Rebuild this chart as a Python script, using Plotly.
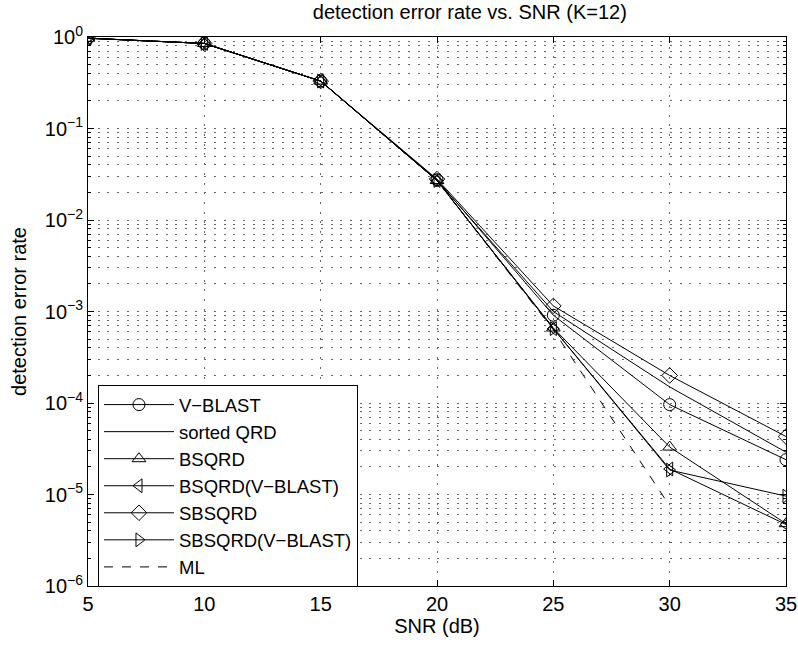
import plotly.graph_objects as go

snr = [5, 10, 15, 20, 25, 30, 35]
snr_ml = [5, 10, 15, 20, 25, 30]
vblast = [0.97, 0.85, 0.33, 0.0275, 9.1e-4, 9.6e-5, 2.4e-5]
sorted_qrd = [0.97, 0.85, 0.33, 0.027, 1.0e-3, 1.5e-4, 2.9e-5]
bsqrd = [0.97, 0.85, 0.33, 0.027, 6.6e-4, 3.3e-5, 4.8e-6]
bsqrd_vb = [0.97, 0.85, 0.33, 0.027, 6.5e-4, 1.9e-5, 4.7e-6]
sbsqrd = [0.97, 0.85, 0.33, 0.028, 1.15e-3, 2.0e-4, 4.3e-5]
sbsqrd_vb = [0.97, 0.85, 0.33, 0.027, 6.5e-4, 1.85e-5, 9.6e-6]
ml = [0.97, 0.85, 0.33, 0.027, 6.3e-4, 7.5e-6]

x_ticks = [5, 10, 15, 20, 25, 30, 35]
y_ticks = [1e-6, 1e-5, 1e-4, 1e-3, 1e-2, 1e-1, 1]
y_ticktext = ["10<sup>\u22126</sup>", "10<sup>\u22125</sup>", "10<sup>\u22124</sup>",
              "10<sup>\u22123</sup>", "10<sup>\u22122</sup>", "10<sup>\u22121</sup>",
              "10<sup>0</sup>"]
y_minor = [m * 10.0 ** e for e in range(-6, 0) for m in range(2, 10)]

series = [
    ("V\u2212BLAST", snr, vblast, "circle-open", "solid"),
    ("sorted QRD", snr, sorted_qrd, None, "solid"),
    ("BSQRD", snr, bsqrd, "triangle-up-open", "solid"),
    ("BSQRD(V\u2212BLAST)", snr, bsqrd_vb, "triangle-left-open", "solid"),
    ("SBSQRD", snr, sbsqrd, "diamond-open", "solid"),
    ("SBSQRD(V\u2212BLAST)", snr, sbsqrd_vb, "triangle-right-open", "solid"),
    ("ML", snr_ml, ml, None, "dash"),
]

fig = go.Figure()
for name, x, y, sym, dash in series:
    if sym:
        fig.add_trace(go.Scatter(
            x=x, y=y, name=name, mode="lines+markers",
            line=dict(color="black", width=1, dash=dash),
            marker=dict(symbol=sym, size=12, color="black", line=dict(width=1, color="black")),
        ))
    else:
        fig.add_trace(go.Scatter(
            x=x, y=y, name=name, mode="lines",
            line=dict(color="black", width=1, dash=dash),
        ))

font = "Liberation Sans, Arial, Helvetica, sans-serif"
grid_dash = "2px,7.7px"
grid_color = "#666"
fig.update_layout(
    width=798, height=645,
    margin=dict(l=88, r=12, t=37, b=59),
    paper_bgcolor="white", plot_bgcolor="white",
    font=dict(family=font, size=20, color="black"),
    title=dict(text="detection error rate vs. SNR (K=12)", x=0.547, xanchor="center",
               xref="paper", y=0.981, yanchor="middle", yref="container",
               font=dict(size=20)),
    showlegend=True,
    legend=dict(x=0.0143, y=0.366, xanchor="left", yanchor="top",
                bgcolor="white", bordercolor="black", borderwidth=1,
                font=dict(size=18.5), itemwidth=70, tracegroupgap=0,
                entrywidth=300, entrywidthmode="pixels"),
    xaxis=dict(
        title=dict(text="SNR (dB)", standoff=2, font=dict(size=20)),
        range=[5, 35], tickvals=x_ticks,
        ticks="inside", ticklen=6, tickcolor="black",
        showline=True, linecolor="black", linewidth=1, mirror="ticks",
        showgrid=True, gridcolor=grid_color, griddash=grid_dash, gridwidth=1,
        zeroline=False, tickfont=dict(size=20), automargin=False,
    ),
    yaxis=dict(
        title=dict(text="detection error rate", standoff=12, font=dict(size=20)),
        type="log", range=[-6, 0], tickvals=y_ticks, ticktext=y_ticktext,
        ticks="inside", ticklen=6, tickcolor="black",
        showline=True, linecolor="black", linewidth=1, mirror="ticks",
        showgrid=True, gridcolor=grid_color, griddash=grid_dash, gridwidth=1,
        minor=dict(tickvals=y_minor, showgrid=True, gridcolor=grid_color, griddash=grid_dash,
                   gridwidth=1, ticks="inside", ticklen=3, tickcolor="black"),
        zeroline=False, tickfont=dict(size=20), automargin=False,
    ),
)

fig.write_html("out.html")
